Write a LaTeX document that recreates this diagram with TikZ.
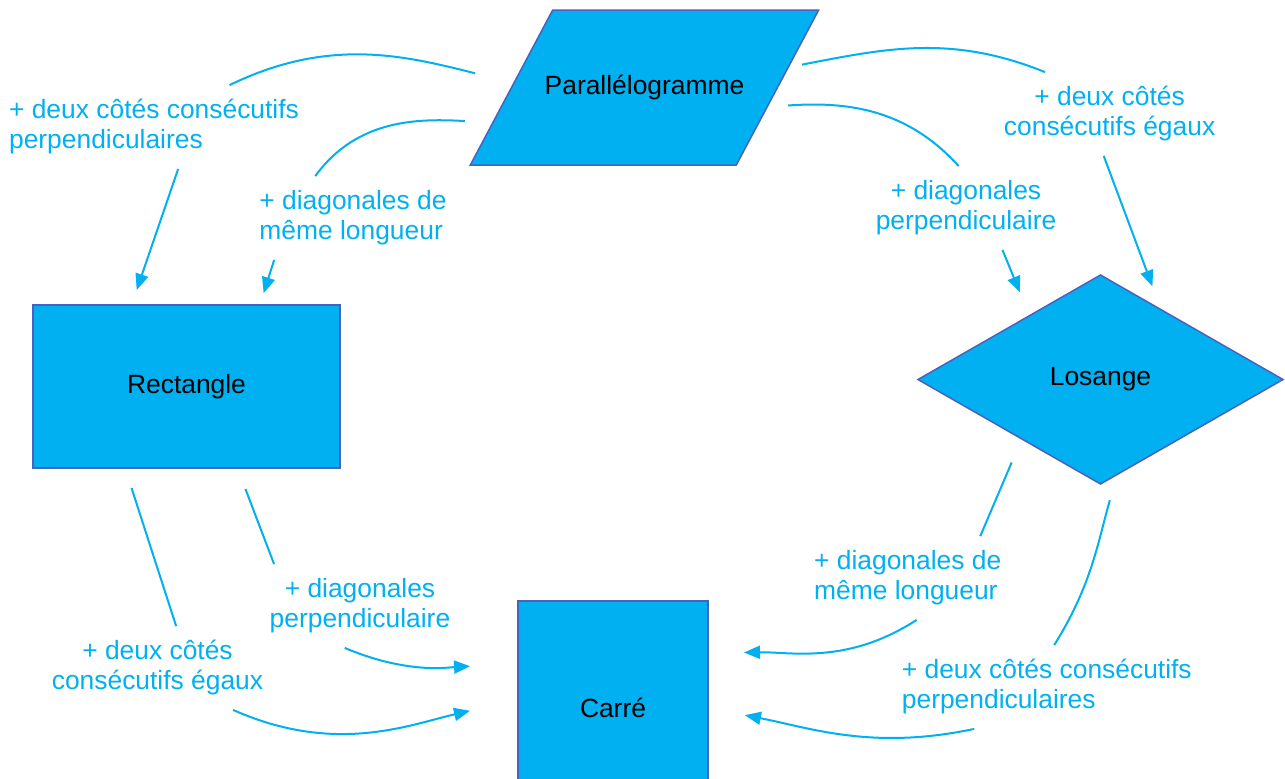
\documentclass[tikz,border=0pt]{standalone}
\usepackage{fontspec}
\setmainfont{Liberation Sans}
\usetikzlibrary{shapes.geometric,arrows.meta}
\definecolor{shapefill}{RGB}{0,176,240}
\definecolor{shapeline}{RGB}{72,98,190}
\definecolor{linkcol}{RGB}{0,176,240}
\tikzset{>={Triangle[length=8pt,width=6.5pt]}}
\tikzstyle{figure} = [draw=shapeline, fill=shapefill, line width=0.75pt, outer sep=0pt, inner sep=2pt]
\tikzstyle{prop} = [text=linkcol, minimum height=41.5pt, inner ysep=0pt, inner xsep=3pt]
\tikzstyle{link} = [draw=linkcol, line width=1pt]

\begin{document}
\begin{tikzpicture}[x=0.5pt,y=0.5pt,font=\fontsize{13.2}{15}\selectfont]

\path[use as bounding box, clip] (0,0) rectangle (1285,-778);

% Diagram nodes
\node[figure, trapezium, trapezium left angle=62, trapezium right angle=118, trapezium stretches body, text height=10pt, text depth=3pt, inner ysep=32.25pt, inner xsep=-4pt] (para) at (644.5,-87.5) {Parallélogramme};
\node[figure, minimum width=153.5pt, minimum height=81.5pt] (rect) at (186.5,-386.5) {Rectangle};
\node[figure, diamond, minimum width=182.5pt, minimum height=104.5pt] (los) at (1100.5,-379.5) {Losange};
\node[figure, minimum width=95pt, minimum height=107pt] (carre) at (613,-708) {Carré};

% Property labels
\node[prop, align=left] (l1) at (154,-127) {+ deux côtés consécutifs\\perpendiculaires};
\node[prop, align=left] (l2) at (353,-218) {+ diagonales de\\même longueur};
\node[prop, align=center] (l3) at (1109.6,-114) {+ deux côtés\\consécutifs égaux};
\node[prop, align=center] (l4) at (966,-208) {+ diagonales\\perpendiculaire};
\node[prop, align=center] (l5) at (360,-606) {+ diagonales\\perpendiculaire};
\node[prop, align=center] (l6) at (157.5,-668) {+ deux côtés\\consécutifs égaux};
\node[prop, align=left] (l7) at (907.7,-578) {+ diagonales de\\même longueur};
\node[prop, align=left] (l8) at (1046.8,-687) {+ deux côtés consécutifs\\perpendiculaires};

% Draw connectors
\draw[link, shorten <=20pt] (para.178) to[out=166,in=26] (l1.29);
\draw[link, ->, shorten >=8pt] (l1.-60) -- (rect.124);
\draw[link, shorten <=14pt] (para.193) to[out=177,in=54] (l2.132);
\draw[link, ->, shorten >=6.2pt] (l2.-152) -- (rect.48);
\draw[link, shorten <=7pt] (para.8) to[out=11,in=158] (l3.147);
\draw[link, ->, shorten >=12.5pt] (l3.-98) -- (los.49);
\draw[link, shorten <=10.5pt] (para.-9) to[out=4,in=132] (l4.100);
\draw[link, ->, shorten >=12.6pt] (l4.-49) -- (los.138);
\draw[link, shorten <=11.2pt] (rect.-58) -- (l5.154);
\draw[link, ->, shorten >=24pt] (l5.-110) to[out=-23,in=183] (carre.155);
\draw[link, shorten <=10.5pt] (rect.-127) -- (l6.66);
\draw[link, ->, shorten >=24.6pt] (l6.-29) to[out=-24,in=193] (carre.175);
\draw[link, shorten <=12.8pt] (los.217) -- (l7.30);
\draw[link, ->, shorten >=18pt] (l7.-78) to[out=213,in=1] (carre.30);
\draw[link, shorten <=13.4pt] (los.-80) to[out=-106,in=58] (l8.80);
\draw[link, ->, shorten >=18.8pt] (l8.-150) to[out=192,in=-11] (carre.0);

\end{tikzpicture}
\end{document}
